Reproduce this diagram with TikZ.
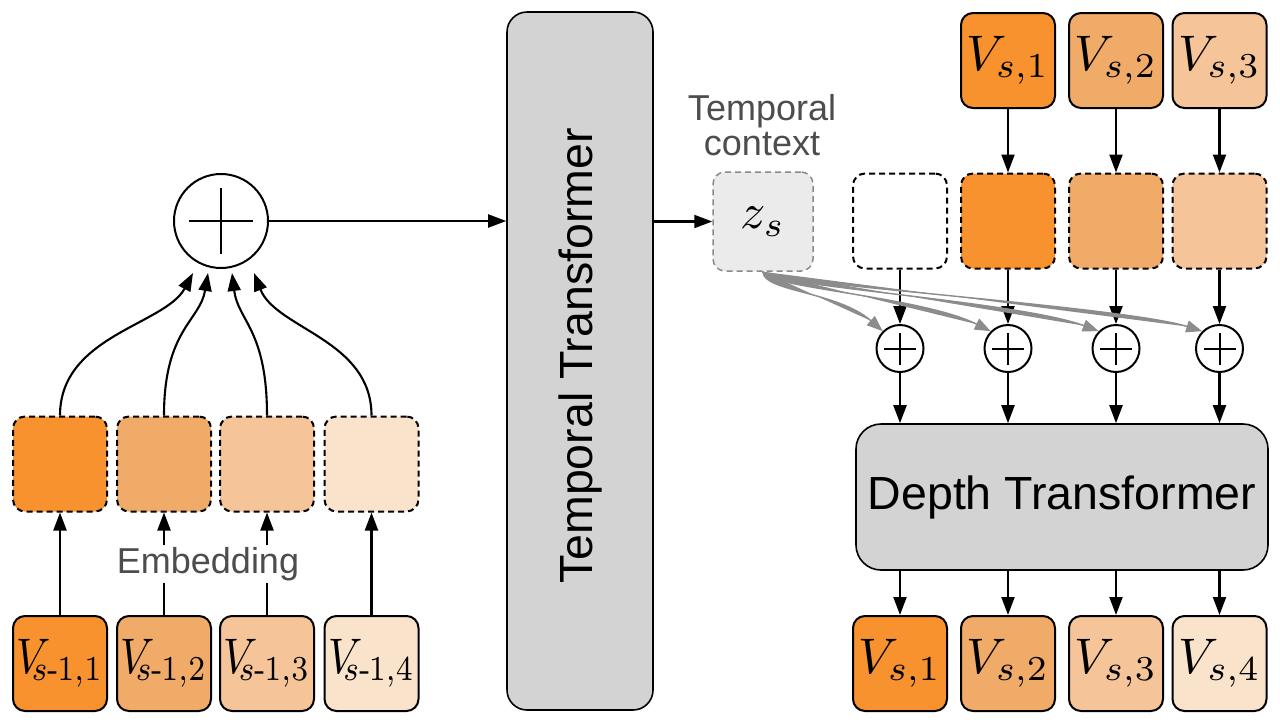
\documentclass[tikz,border=0pt]{standalone}
\usepackage{amsmath}
\usepackage{fontspec}
\usepackage{graphicx}
\usetikzlibrary{arrows.meta}
\newfontfamily\hv{Liberation Sans}
\definecolor{oA}{HTML}{F7922F}
\definecolor{oB}{HTML}{F0AB69}
\definecolor{oC}{HTML}{F5C599}
\definecolor{oD}{HTML}{FAE3CB}
\definecolor{boxgray}{HTML}{D3D3D3}
\definecolor{zsfill}{HTML}{EBEBEB}
\definecolor{zsline}{HTML}{8A8A8A}
\definecolor{labgray}{HTML}{4D4D4D}
\definecolor{curvegray}{HTML}{8C8C8C}
\tikzset{
  tok/.style={draw, rounded corners=12pt, minimum width=94pt, minimum height=95pt, inner sep=0pt, line width=2pt},
  emb/.style={tok, dash pattern=on 6pt off 4pt},
  bigbox/.style={draw, fill=boxgray, line width=1.6pt, inner sep=0pt},
  arr/.style={-{Triangle[length=18pt,width=13pt]}, line width=2.1pt},
  garr/.style={-{Triangle[length=16pt,width=12pt]}, line width=1.4pt, draw=curvegray, fill=curvegray},
  plus/.style={draw, circle, line width=2pt, inner sep=0pt},
  lab/.style={text=labgray, font=\hv\fontsize{36}{35}\selectfont, inner sep=2pt}
}
\newcommand{\mth}[1]{\scalebox{5}{$#1$}}
\newcommand{\lv}[1]{\scalebox{4.25}[5]{$V_{\mkern-5mu s\text{-}\mkern-1mu 1,#1}$}}
\begin{document}
\begin{tikzpicture}[x=1pt,y=-1pt]
\useasboundingbox (0,0) rectangle (1280,721);
% ---------- left side ----------
\node[tok, fill=oA] (b1) at (60,663.5) {\lv{1}};
\node[tok, fill=oB] (b2) at (164,663.5) {\lv{2}};
\node[tok, fill=oC] (b3) at (267,663.5) {\lv{3}};
\node[tok, fill=oD] (b4) at (371.5,663.5) {\lv{4}};
\node[emb, fill=oA] (e1) at (60,464) {};
\node[emb, fill=oB] (e2) at (164,464) {};
\node[emb, fill=oC] (e3) at (267,464) {};
\node[emb, fill=oD] (e4) at (371.5,464) {};
\foreach \i in {1,2,3,4} \draw[arr] (b\i.north) -- (e\i.south);
\node[lab, fill=white] (embl) at (208,564) {Embedding};
\node[plus, minimum size=94pt] (sum) at (221,221) {};
\draw[line width=2pt] ([xshift=-32pt]sum.center) -- ([xshift=32pt]sum.center);
\draw[line width=2pt] ([yshift=-33pt]sum.center) -- ([yshift=33pt]sum.center);
\coordinate (t1) at (193,273);
\coordinate (t2) at (208,273);
\coordinate (t3) at (232,273);
\coordinate (t4) at (254,273);
\draw[arr] (e1.north) .. controls +(0,-80) and +(-28,52) .. (t1);
\draw[arr] (e2.north) .. controls +(0,-86) and +(-8,48) .. (t2);
\draw[arr] (e3.north) .. controls +(0,-86) and +(6,48) .. (t3);
\draw[arr] (e4.north) .. controls +(0,-76) and +(22,56) .. (t4);
% ---------- temporal transformer ----------
\node[bigbox, rounded corners=20pt, minimum width=146pt, minimum height=698pt] (tt) at (580,361) {};
\node[rotate=90, font=\hv\fontsize{46.5}{54}\selectfont] (ttl) at (580,356) {Temporal Transformer};
\draw[arr] (sum.east) -- (sum.east -| tt.west);
\node[draw=zsline, fill=zsfill, dash pattern=on 6pt off 4pt, rounded corners=12pt, line width=1.5pt, minimum width=100pt, minimum height=99pt, inner sep=0pt] (zs) at (763,221.5) {\mth{z_s}};
\draw[arr] (tt.east |- zs.west) -- (zs.west);
\node[lab, align=center] (tc) at (762,125) {Temporal\\context};
% ---------- right side ----------
\node[tok, fill=oA] (v1) at (1008,60.5) {\mth{V_{s,1}}};
\node[tok, fill=oB] (v2) at (1116,60.5) {\mth{V_{s,2}}};
\node[tok, fill=oC] (v3) at (1219.5,60.5) {\mth{V_{s,3}}};
\node[emb, fill=white] (d0) at (900,221) {};
\node[emb, fill=oA] (d1) at (1008,221) {};
\node[emb, fill=oB] (d2) at (1116,221) {};
\node[emb, fill=oC] (d3) at (1219.5,221) {};
\foreach \i in {1,2,3} \draw[arr] (v\i.south) -- (d\i.north);
\node[bigbox, rounded corners=25pt, minimum width=412pt, minimum height=146pt, font=\hv\fontsize{46.5}{54}\selectfont] (dt) at (1062,497) {Depth Transformer};
\foreach \i/\x in {0/900,1/1008,2/1116,3/1219.5} {
  \node[plus, minimum size=47pt] (p\i) at (\x,348.5) {};
  \draw[line width=2pt] ([xshift=-16pt]p\i.center) -- ([xshift=16pt]p\i.center);
  \draw[line width=2pt] ([yshift=-16pt]p\i.center) -- ([yshift=16pt]p\i.center);
  \draw[arr] (d\i.south) -- (p\i.north);
  \draw[arr] (p\i.south) -- (p\i.south |- dt.north);
}
\draw[garr] (zs.south) .. controls +(0,20) and +(-45,-40) .. (p0.north west);
\draw[garr] (zs.south) .. controls +(2,16) and +(-70,-35) .. (p1.north west);
\draw[garr] (zs.south) .. controls +(4,14) and +(-80,-30) .. (p2.north west);
\draw[garr] (zs.south) .. controls +(6,12) and +(-80,-25) .. (p3.north west);
\node[tok, fill=oA] (o1) at (900,663.5) {\mth{V_{s,1}}};
\node[tok, fill=oB] (o2) at (1008,663.5) {\mth{V_{s,2}}};
\node[tok, fill=oC] (o3) at (1116,663.5) {\mth{V_{s,3}}};
\node[tok, fill=oD] (o4) at (1219.5,663.5) {\mth{V_{s,4}}};
\foreach \i in {1,2,3,4} \draw[arr] (dt.south -| o\i.north) -- (o\i.north);
\end{tikzpicture}
\end{document}
